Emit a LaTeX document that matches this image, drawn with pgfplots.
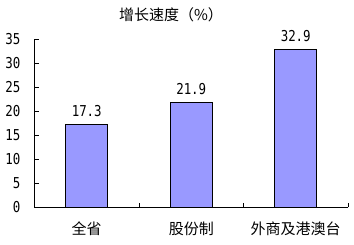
\documentclass[border=0pt]{standalone}
\usepackage{fontspec}
\setmainfont{Noto Sans CJK SC}
\newfontfamily\numfont[FakeStretch=0.83]{DejaVu Sans Mono}
\usepackage{pgfplots}
\pgfplotsset{compat=1.18}
\definecolor{barfill}{HTML}{9999FF}
\begin{document}
\begin{tikzpicture}[x=1pt,y=1pt]
\useasboundingbox (0,0) rectangle (354,245);
\fill[white] (0,0) rectangle (354,245);
\begin{axis}[
  at={(34.5pt,37.5pt)}, anchor=south west,
  scale only axis, width=313.5pt, height=168pt,
  xmin=-0.5, xmax=2.5, ymin=0, ymax=35,
  axis lines*=left, axis line style={-, black, line width=0.8pt},
  tick align=inside,
  major tick length=4.5pt,
  ytick={0,5,...,35},
  tick style={black, line width=0.8pt},
  xtick={0.5,1.5,2.5}, xticklabels={},
  extra x ticks={0,1,2},
  extra x tick labels={全省,股份制,外商及港澳台},
  extra x tick style={major tick length=0pt,
    xticklabel style={anchor=center, inner sep=0pt, yshift=-21.5pt, font=\fontsize{15}{15}\selectfont}},
  /pgf/number format/assume math mode=true,
  yticklabel style={anchor=east, inner sep=0pt, xshift=-14pt, font=\numfont\fontsize{15}{15}\selectfont},
  point meta=explicit symbolic,
  nodes near coords,
  every node near coord/.append style={font=\numfont\fontsize{15}{15}\selectfont, anchor=south, inner sep=0pt, yshift=7pt, black},
  clip=false,
]
\addplot[ybar, bar width=42pt, fill=barfill, draw=black, line width=0.8pt] coordinates {
  (0,17.3) [17.3]
  (1,21.9) [21.9]
  (2,32.9) [32.9]
};
\end{axis}
\node[font=\fontsize{15}{15}\selectfont] at (171,230) {增长速度（\%）};
\end{tikzpicture}
\end{document}
